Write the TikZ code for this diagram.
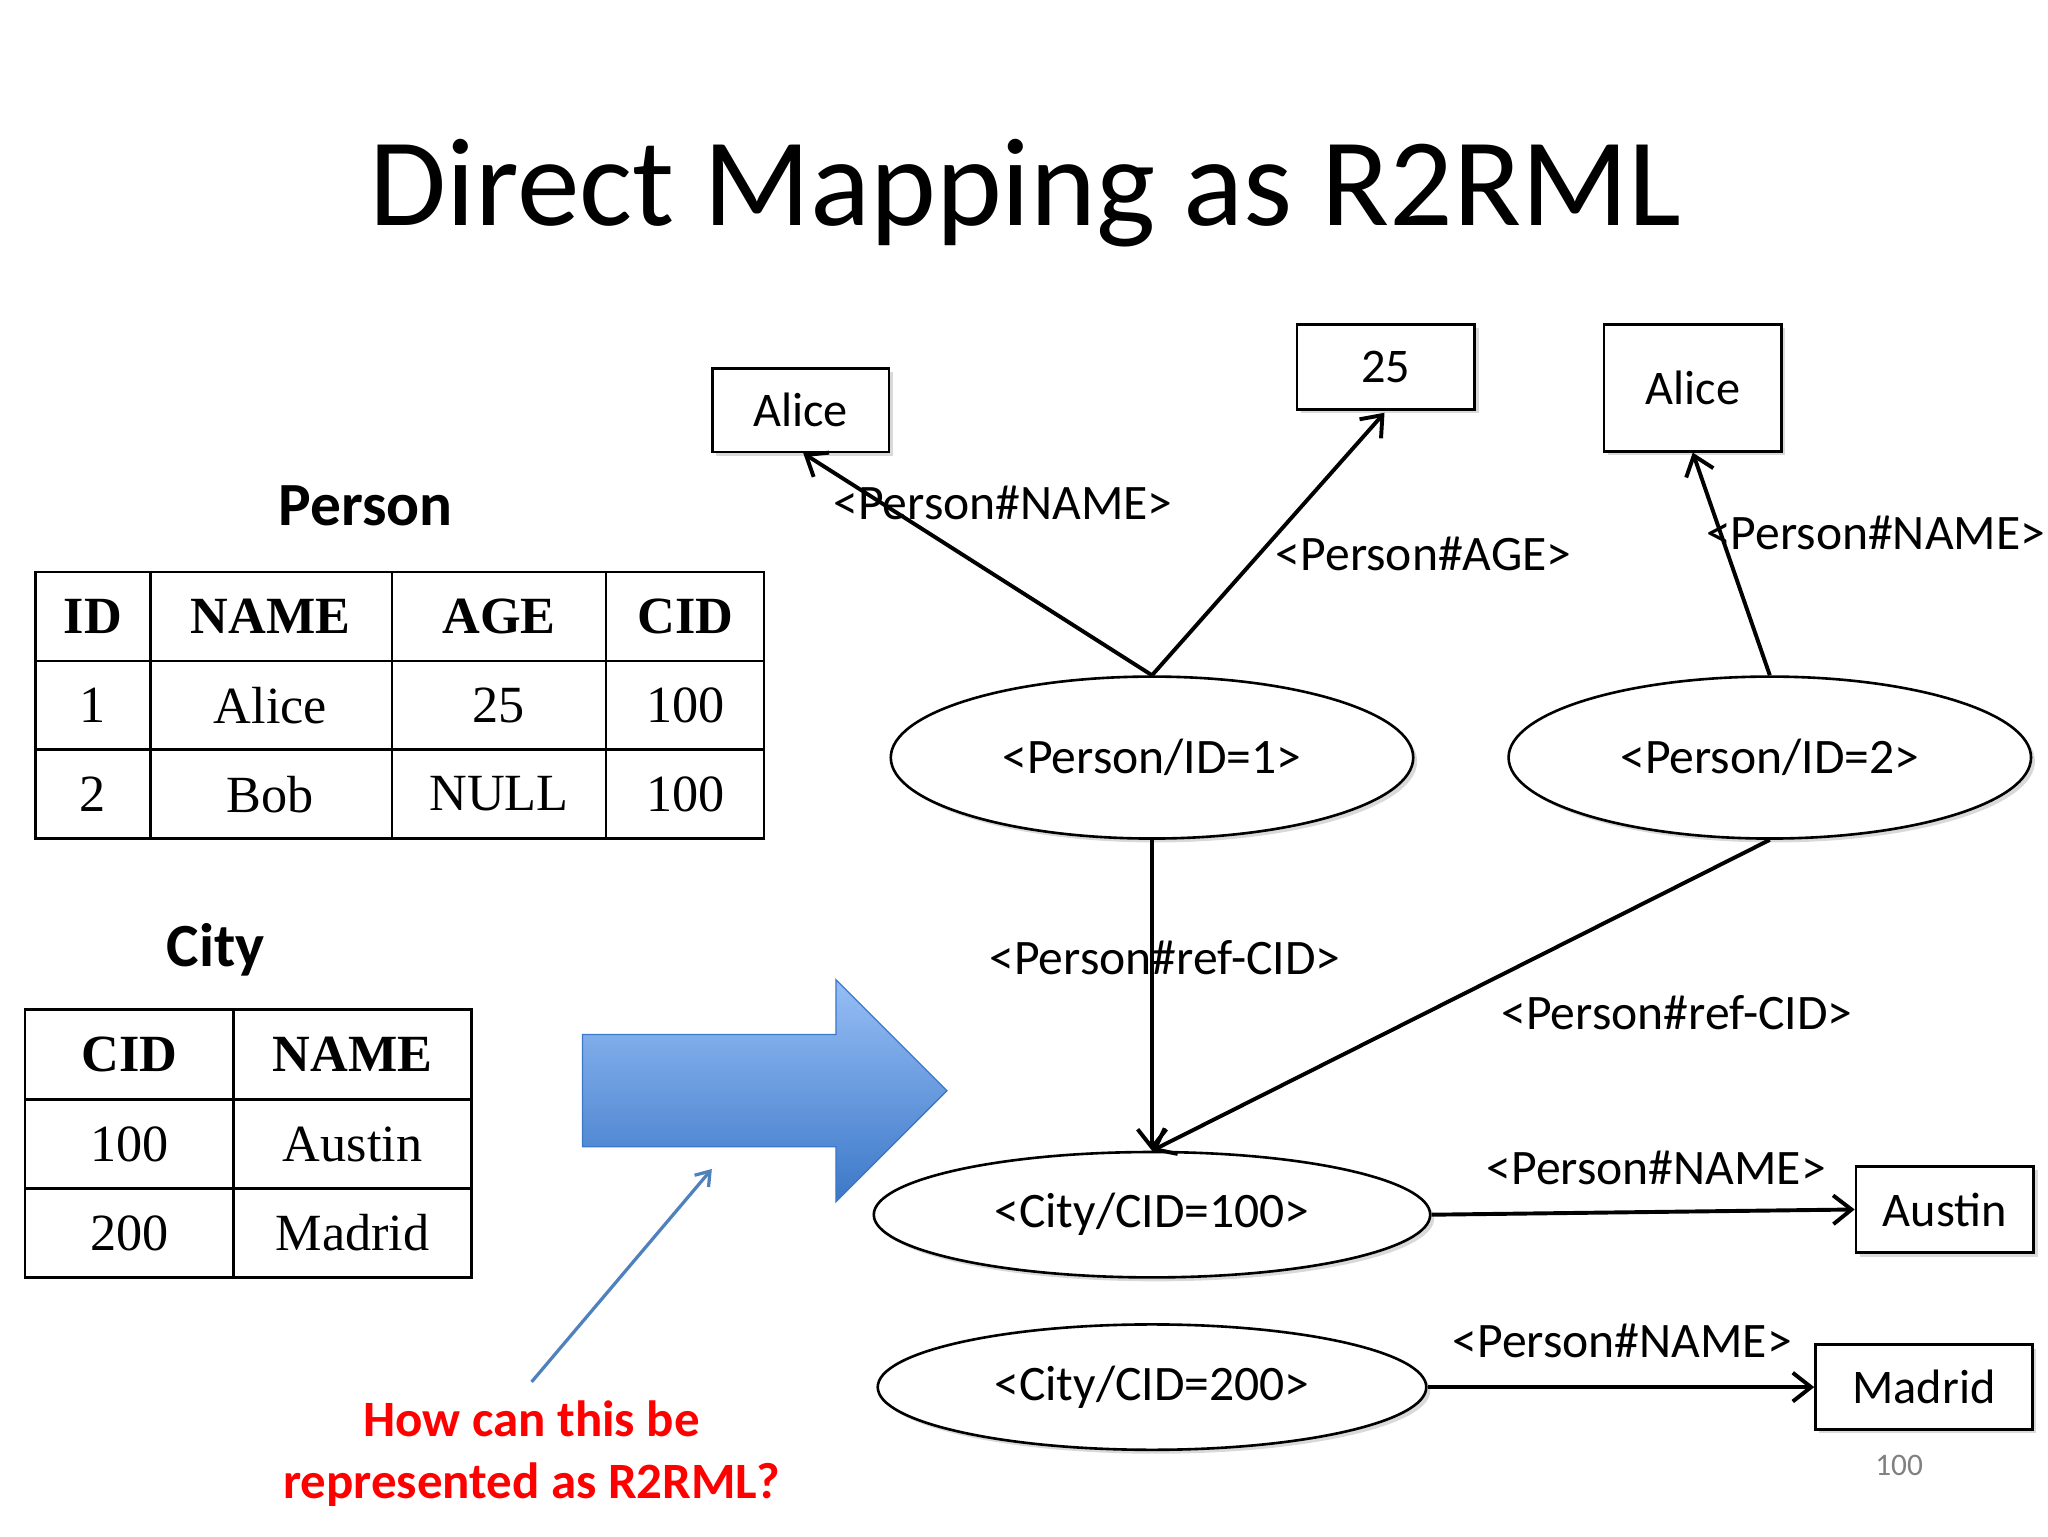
\documentclass[tikz,border=0pt]{standalone}
\usepackage{fontspec}
\setmainfont{Carlito}
\newfontfamily\tabfont{Liberation Serif}
\usetikzlibrary{arrows.meta,shadows,shapes.geometric}
\definecolor{atop}{RGB}{150,190,245}
\definecolor{abot}{RGB}{60,120,200}
\tikzset{
 lab/.style={font=\fontsize{38}{40}\selectfont,inner sep=0},
 ell/.style={draw,line width=2pt,ellipse,fill=white,drop shadow={shadow xshift=3pt,shadow yshift=-3pt,opacity=0.3}},
 lit/.style={draw,line width=2pt,fill=white,font=\fontsize{37}{40}\selectfont,drop shadow={shadow xshift=3pt,shadow yshift=-3pt,opacity=0.3}},
 edge/.style={line width=3pt,-{Straight Barb[length=14pt,width=22pt,line width=3pt]}},
 cell/.style={font=\tabfont\fontsize{40}{44}\selectfont},
 hcell/.style={font=\tabfont\bfseries\fontsize{40}{44}\selectfont},
}
\begin{document}
\begin{tikzpicture}[x=1pt,y=1pt]
\useasboundingbox (0,0) rectangle (1568,-1176);
\node (title) at (785,-148) {\fontsize{96}{100}\selectfont Direct Mapping as R2RML};
% Person table
\node (ph) at (280,-387) {\fontsize{47}{50}\selectfont\bfseries Person};
\draw[line width=2pt] (27,-438) rectangle (585,-642);
\foreach \x in {115,300,464} \draw[line width=2pt] (\x,-438)--(\x,-642);
\foreach \y in {506,574} \draw[line width=2pt] (27,-\y)--(585,-\y);
\node[hcell] (p11) at (71,-472) {ID};
\node[hcell] (p12) at (207,-472) {NAME};
\node[hcell] (p13) at (382,-472) {AGE};
\node[hcell] (p14) at (525,-472) {CID};
\node[cell] (p21) at (71,-540) {1};
\node[cell] (p22) at (207,-540) {Alice};
\node[cell] (p23) at (382,-540) {25};
\node[cell] (p24) at (525,-540) {100};
\node[cell] (p31) at (71,-608) {2};
\node[cell] (p32) at (207,-608) {Bob};
\node[cell] (p33) at (382,-608) {NULL};
\node[cell] (p34) at (525,-608) {100};
% City table
\node (ch) at (165,-727) {\fontsize{47}{50}\selectfont\bfseries City};
\draw[line width=2pt] (19,-773) rectangle (361,-978);
\draw[line width=2pt] (179,-773)--(179,-978);
\foreach \y in {842,910} \draw[line width=2pt] (19,-\y)--(361,-\y);
\node[hcell] (c11) at (99,-807) {CID};
\node[hcell] (c12) at (270,-807) {NAME};
\node[cell] (c21) at (99,-876) {100};
\node[cell] (c22) at (270,-876) {Austin};
\node[cell] (c31) at (99,-944) {200};
\node[cell] (c32) at (270,-944) {Madrid};
% big arrow
\shade[top color=atop, bottom color=abot, draw=abot, line width=1pt]
 (446,-792)--(640,-792)--(640,-750)--(725,-835)--(640,-920)--(640,-878)--(446,-878)--cycle;
\coordinate (qs) at (407,-1058);
\coordinate (qe) at (545,-895);
\draw[line width=2.5pt,draw={rgb,255:red,79;green,129;blue,189},-{Straight Barb[length=10pt,width=14pt]}] (qs)--(qe);
\node[text=red,font=\fontsize{39}{48}\selectfont\bfseries,align=center] (q) at (407,-1113) {How can this be\\represented as R2RML?};
% graph
\node[ell,minimum width=400pt,minimum height=124pt,lab] (e1) at (882,-580) {<Person/ID=1>};
\node[ell,minimum width=400pt,minimum height=124pt,lab] (e2) at (1355,-580) {<Person/ID=2>};
\node[ell,minimum width=426pt,minimum height=96pt,lab] (c1) at (882,-930) {<City/CID=100>};
\node[ell,minimum width=420pt,minimum height=96pt,lab] (c2) at (882,-1062) {<City/CID=200>};
\node[lit,minimum width=135pt,minimum height=64pt] (a1) at (613,-314) {Alice};
\node[lit,minimum width=136pt,minimum height=65pt] (n25) at (1061,-281) {25};
\node[lit,minimum width=136pt,minimum height=97pt] (a2) at (1296,-297) {Alice};
\node[lit,minimum width=136pt,minimum height=66pt] (aus) at (1489,-926) {Austin};
\node[lit,minimum width=166pt,minimum height=65pt] (mad) at (1473,-1062) {Madrid};
\draw[edge] (e1.north) -- (615,-347);
\draw[edge] (e1.north) -- (1060,-316);
\draw[edge] (e2.north) -- (a2.south);
\draw[edge] (e1.south) -- (c1.north);
\draw[edge] (e2.south) -- (c1.north);
\draw[edge] (c1.east) -- (aus.west);
\draw[edge] (c2.east) -- (mad.west);
\node[lab] (l1) at (768,-385) {<Person\#NAME>};
\node[lab] (l2) at (1090,-424) {<Person\#AGE>};
\node[lab,anchor=west] (l3) at (1306,-408) {<Person\#NAME>};
\node[lab] (l4) at (892,-733) {<Person\#ref-CID>};
\node[lab] (l5) at (1284,-775) {<Person\#ref-CID>};
\node[lab] (l6) at (1268,-894) {<Person\#NAME>};
\node[lab] (l7) at (1242,-1027) {<Person\#NAME>};
\node[text=gray,font=\fontsize{24}{26}\selectfont] (pg) at (1454,-1122) {100};
\end{tikzpicture}
\end{document}
